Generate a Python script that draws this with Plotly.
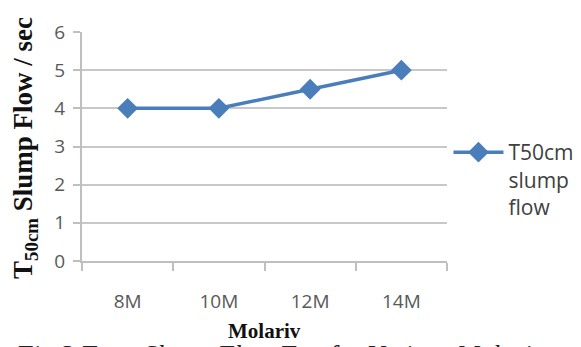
import plotly.graph_objects as go

categories = ["8M", "10M", "12M", "14M"]
t50_values = [4, 4, 4.5, 5]
y_ticks = [0, 1, 2, 3, 4, 5, 6]

W, H = 581, 347
L, R, T, B = 82, 134, 32, 86
PH = H - T - B
PW = W - L - R

fig = go.Figure()
fig.add_trace(go.Scatter(
    x=categories, y=t50_values, mode="lines+markers",
    name="T50cm<br>slump<br>flow",
    line=dict(color="#4a7ebb", width=3.5),
    marker=dict(symbol="diamond", size=16, color="#4a7ebb"),
))

tickfont = dict(family="Open Sans, Liberation Sans, sans-serif", size=19, color="#595959")

fig.update_layout(
    width=W, height=H,
    margin=dict(l=L, r=R, t=T, b=B, pad=0, autoexpand=False),
    paper_bgcolor="white", plot_bgcolor="white",
    showlegend=True,
    legend=dict(
        x=1.004, y=(261 - 132) / PH, xanchor="left", yanchor="top",
        font=dict(family="Open Sans, Liberation Sans, sans-serif", size=21, color="#404040"),
        valign="top", itemwidth=50, bgcolor="rgba(0,0,0,0)",
        tracegroupgap=0,
    ),
    xaxis=dict(
        type="category", range=[-0.5, 3.5],
        showgrid=False, showline=True, linecolor="#bfbfbf", linewidth=2,
        ticks="outside", ticklen=8, tickcolor="#bfbfbf", tickwidth=2,
        tickson="boundaries", tickfont=tickfont, ticklabelstandoff=22,
        fixedrange=True,
    ),
    yaxis=dict(
        range=[0, 6], tickvals=y_ticks,
        showgrid=True, gridcolor="#c8c8c8", gridwidth=2,
        showline=True, linecolor="#bfbfbf", linewidth=2,
        ticks="outside", ticklen=7, tickcolor="#bfbfbf", tickwidth=2,
        tickfont=tickfont, zeroline=False, ticklabelstandoff=4,
    ),
)

fig.add_annotation(
    text="<b>T<sub>50cm</sub> Slump Flow / sec</b>",
    xref="paper", yref="paper", x=-(L - 25) / PW, y=(261 - 148) / PH,
    xanchor="center", yanchor="middle", textangle=-90, showarrow=False,
    font=dict(family="Liberation Serif, Times New Roman, serif", size=27, color="#111"),
)

fig.add_annotation(
    text="<b>Molariv</b>",
    xref="paper", yref="paper", x=0.5, y=-(331 - 261) / PH,
    xanchor="center", yanchor="middle", showarrow=False,
    font=dict(family="Liberation Serif, Times New Roman, serif", size=21, color="#111"),
)

fig.add_annotation(
    text="<i>Fig 3 T<sub>50cm</sub> Slump Flow Test for Various Molarity</i>",
    xref="paper", yref="paper", x=(283 - L) / PW, y=-(337.5 - 261) / PH,
    xanchor="center", yanchor="top", showarrow=False,
    font=dict(family="Liberation Serif, Times New Roman, serif", size=27, color="#222"),
)

fig.write_html("out.html")
